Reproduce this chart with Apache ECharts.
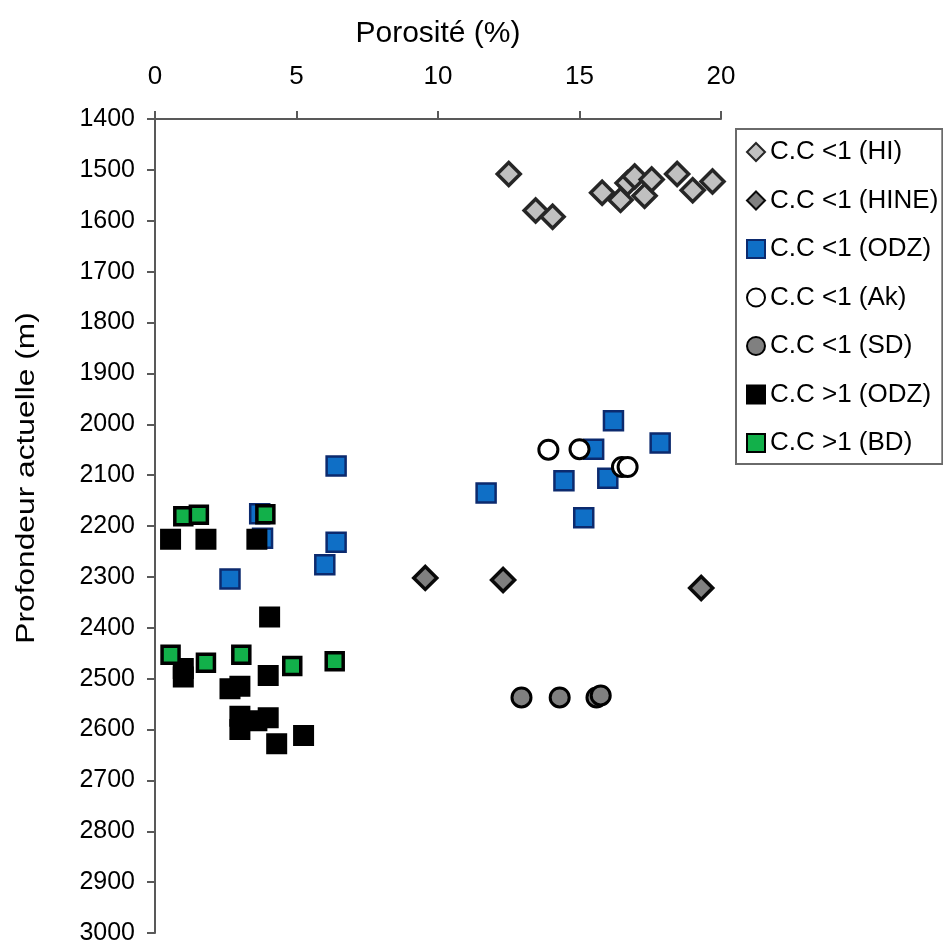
<!DOCTYPE html>
<html>
<head>
<meta charset="utf-8">
<script src="https://cdn.jsdelivr.net/npm/echarts@6/dist/echarts.min.js"></script>
<style>html,body{margin:0;padding:0;background:#fff}#c{width:943px;height:947px}</style>
</head>
<body>
<div id="c"></div>
<script>
// Porosité (%) , profondeur (m)
const hiPoro   = [12.5, 13.45, 14.05, 15.8, 16.45, 16.7, 16.95, 17.3, 17.55, 18.45, 19.0, 19.7];
const hiDepth  = [1508, 1580, 1592, 1545, 1559, 1526, 1513, 1551, 1519, 1508, 1540, 1523];
const hinePoro  = [9.55, 12.3, 19.3];
const hineDepth = [2302, 2306, 2322];
const odzLtPoro  = [16.2, 17.85, 15.5, 14.45, 16.0, 11.7, 15.15, 6.4, 6.4, 6.0, 2.65, 3.7, 3.8];
const odzLtDepth = [1993, 2037, 2049, 2111, 2106, 2135, 2184, 2082, 2232, 2276, 2304, 2176, 2224];
const akPoro  = [13.9, 15.0, 16.5, 16.7];
const akDepth = [2050, 2049, 2084, 2084];
const sdPoro  = [12.95, 14.3, 15.6, 15.75];
const sdDepth = [2537, 2537, 2537, 2533];
const odzGtPoro  = [0.55, 1.8, 3.6, 4.05, 1.0, 1.0, 2.65, 3.0, 4.0, 3.0, 3.0, 3.6, 4.0, 4.3, 5.25];
const odzGtDepth = [2226, 2226, 2226, 2379, 2480, 2497, 2520, 2515, 2494, 2574, 2600, 2583, 2577, 2628, 2612];
const bdPoro  = [1.0, 1.55, 3.9, 0.55, 1.8, 3.05, 4.85, 6.35];
const bdDepth = [2181, 2178, 2177, 2453, 2469, 2453, 2475, 2466];

const xTicks = {min: 0, max: 20, interval: 5};
const yTicks = {min: 1400, max: 3000, interval: 100};
const xTitle = 'Porosité (%)';
const yTitle = 'Profondeur actuelle (m)';

function pts(xs, ys){ return xs.map((x,i)=>[x, ys[i]]); }

const chart = echarts.init(document.getElementById('c'));
const font = "'Liberation Sans', Arial, sans-serif";
function ser(name, xs, ys, symbol, size, fill, border, bw){
  return {name, type:'scatter', data: pts(xs, ys), symbol, symbolSize: size,
    itemStyle:{color: fill, borderColor: border, borderWidth: bw, opacity:1},
    emphasis:{disabled:true}};
}
chart.setOption({
  animation:false,
  backgroundColor:'#ffffff',
  grid:{left:155, right:222, top:119, bottom:14, containLabel:false},
  xAxis:{type:'value', position:'top', min:xTicks.min, max:xTicks.max, interval:xTicks.interval,
    name:xTitle, nameLocation:'middle', nameGap:70,
    nameTextStyle:{fontFamily:font, fontSize:30, color:'#000'},
    axisLine:{show:true, onZero:false, lineStyle:{color:'#595959', width:2}},
    axisTick:{show:true, inside:false, length:8, lineStyle:{color:'#595959', width:2}},
    axisLabel:{fontFamily:font, fontSize:26, color:'#000', margin:29},
    splitLine:{show:false}},
  yAxis:{type:'value', inverse:true, min:yTicks.min, max:yTicks.max, interval:yTicks.interval,
    axisLine:{show:true, onZero:false, lineStyle:{color:'#595959', width:2}},
    axisTick:{show:true, inside:false, length:8, lineStyle:{color:'#595959', width:2}},
    axisLabel:{fontFamily:font, fontSize:25, color:'#000', margin:20,
      formatter: v => String(v)},
    splitLine:{show:false}},
  graphic:[{type:'text', x:27, y:478, rotation:Math.PI/2, scaleX:1.22, scaleY:1,
    style:{text:yTitle, font:"26px 'Liberation Sans', Arial, sans-serif", fill:'#000',
      textAlign:'center', textVerticalAlign:'middle', align:'center', verticalAlign:'middle'}}],
  legend:{orient:'vertical', left:736, top:129,
    padding:[10, 4, 8, 10], itemGap:22.5, itemWidth:18, itemHeight:18,
    borderColor:'#6a6a6a', borderWidth:2, backgroundColor:'#fff',
    textStyle:{fontFamily:font, fontSize:26, color:'#000', lineHeight:26},
    selectedMode:false},
  series:[
    ser('C.C <1 (HI)', hiPoro, hiDepth, 'diamond', 23, '#c0c0c0', '#262626', 3.5),
    ser('C.C <1 (HINE)', hinePoro, hineDepth, 'diamond', 23, '#808080', '#0a0a0a', 3.5),
    ser('C.C <1 (ODZ)', odzLtPoro, odzLtDepth, 'rect', 19, '#0f6fc6', '#0c2a6e', 2.5),
    ser('C.C <1 (Ak)', akPoro, akDepth, 'circle', 19, '#ffffff', '#000000', 3),
    ser('C.C <1 (SD)', sdPoro, sdDepth, 'circle', 19, '#808080', '#000000', 3),
    ser('C.C >1 (ODZ)', odzGtPoro, odzGtDepth, 'rect', 19, '#000000', '#000000', 2),
    ser('C.C >1 (BD)', bdPoro, bdDepth, 'rect', 17, '#12b04a', '#000000', 3.5)
  ]
});
</script>
</body>
</html>
